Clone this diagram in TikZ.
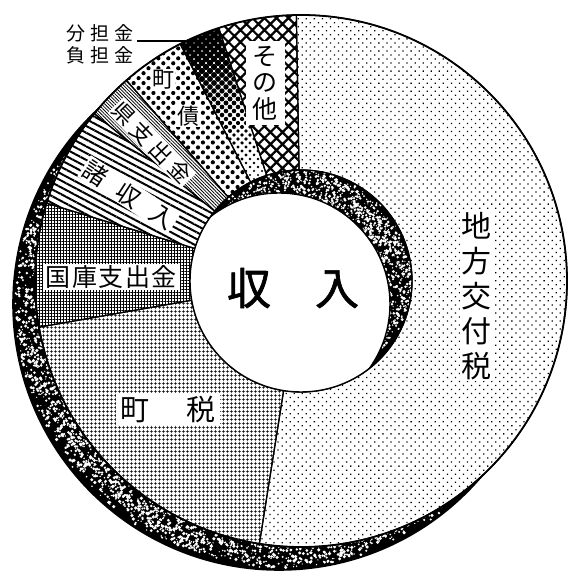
\documentclass[tikz,border=0pt]{standalone}
\usepackage{fontspec}
\newfontfamily\cjk{Noto Sans CJK JP}
\newfontfamily\cjkbold{Noto Sans CJK JP}[FakeBold=1.5]
\usetikzlibrary{patterns.meta,calc}
\newcommand{\ringpart}[3]{\draw[sep,#1] ($(C)+(#2:111)$) arc[start angle=#2,end angle=#3,radius=111]
  -- ($(C)+(#3:266)$) arc[start angle=#3,end angle=#2,radius=266] -- cycle;}

\begin{document}
\begin{tikzpicture}[x=1pt, y=1pt, line join=round,
  sep/.style={line width=1.2pt},
  lab/.style 2 args={fill=white, inner sep=1.5pt, font=\cjk\fontsize{#1}{#2}\selectfont}]
\useasboundingbox (0,0) rectangle (571,583);
\coordinate (C) at (301,302);
\coordinate (B) at (279,279);
% side of the ring
\fill (B) circle[radius=266];
\begin{scope}
\clip (B) circle[radius=266];
\pgfmathsetseed{12}
\foreach \k in {1,...,3800}
  \fill[white] ($(B)+(80+290*rnd:230+34*rnd)$) circle[radius=0.6+1.2*rnd];
\end{scope}
\draw[line width=1.6pt] (B) circle[radius=266];
\fill[white] (C) circle[radius=266];
% top face
\ringpart{pattern={Dots[angle=45,distance=5.7pt,radius=0.9pt]}}{-99}{91}
\ringpart{pattern={Hatch[angle=45,distance=8.5pt,line width=2.2pt]}}{91}{108}
\ringpart{pattern={Dots[angle=45,distance=7pt,radius=2.1pt]}}{117}{131}
\ringpart{pattern={Lines[angle=-45,distance=2.4pt,line width=0.8pt]}}{131}{141}
\ringpart{pattern={Lines[angle=-28,distance=6pt,line width=2pt]}}{141}{163}
\ringpart{pattern={Hatch[angle=0,distance=3pt,line width=0.85pt]}}{163}{190}
\ringpart{pattern={Hatch[angle=0,distance=4pt,line width=0.7pt]}}{190}{261}
\begin{scope}
\clip ($(C)+(108:111)$) arc[start angle=108,end angle=117,radius=111]
  -- ($(C)+(117:266)$) arc[start angle=117,end angle=108,radius=266] -- cycle;
\foreach \i in {0,...,13}
  \foreach \j in {0,...,44} {
    \pgfmathsetmacro\px{174+8*\i+4*mod(\j,2)}
    \pgfmathsetmacro\py{396+4*\j}
    \pgfmathsetmacro\rd{1.1+2.6*(veclen(\px-301,\py-302)-111)/155}
    \fill (\px,\py) circle[radius=\rd];
  }
\end{scope}
\ringpart{}{108}{117}
% hole
\begin{scope}
\clip (C) circle[radius=111];
\fill (C) circle[radius=111];
\foreach \k in {1,...,1300}
  \fill[white] ($(C)+(-50+190*rnd:78+33*rnd)$) circle[radius=0.5+1.1*rnd];
\fill[white] (B) circle[radius=111];
\draw[line width=1.4pt] (B) circle[radius=111];
\end{scope}
\draw[line width=1.4pt] (C) circle[radius=111];
\draw[line width=1.8pt] (C) circle[radius=266];
% labels
\node[font=\cjkbold\fontsize{44}{44}\selectfont] (shunyu) at (293,295) {収\hspace{1em}入};
\node[lab={30}{35}, align=center] (kofu) at (476,287) {地\\方\\交\\付\\税};
\node[lab={29}{29}, inner xsep=4pt, inner ysep=3pt] (chozei) at (168,174) {町\hspace{38pt}税};
\node[lab={25}{25}, inner xsep=3pt] (kokko) at (111,306) {国\kern1.5pt庫\kern1.5pt支\kern1.5pt出\kern1.5pt金};
\node[lab={24}{24}, rotate=-33] (shoshu) at (129,388) {諸\hspace{16pt}収\hspace{16pt}入};
\node[lab={22}{22}, rotate=-46, inner sep=1pt] (ken) at (152,440) {県\kern5pt支\kern5pt出\kern5pt金};
\node[lab={22}{22}, inner sep=1pt] (cho) at (163,503) {町};
\node[lab={22}{22}, inner sep=1pt] (sai) at (188,467) {債};
\node[lab={25}{26.5}, align=center, inner xsep=7pt, inner ysep=5pt] (sonota) at (265,500) {そ\\の\\他};
\node[font=\cjk\fontsize{19}{22}\selectfont, align=center] (bunlab) at (100,539) {分\kern5pt担\kern5pt金\\負\kern5pt担\kern5pt金};
\coordinate (bunpt) at ($(C)+(115.5:266)$);
\draw[line width=1.8pt] (bunpt -| bunlab.east) -- (bunpt);
\end{tikzpicture}
\end{document}
